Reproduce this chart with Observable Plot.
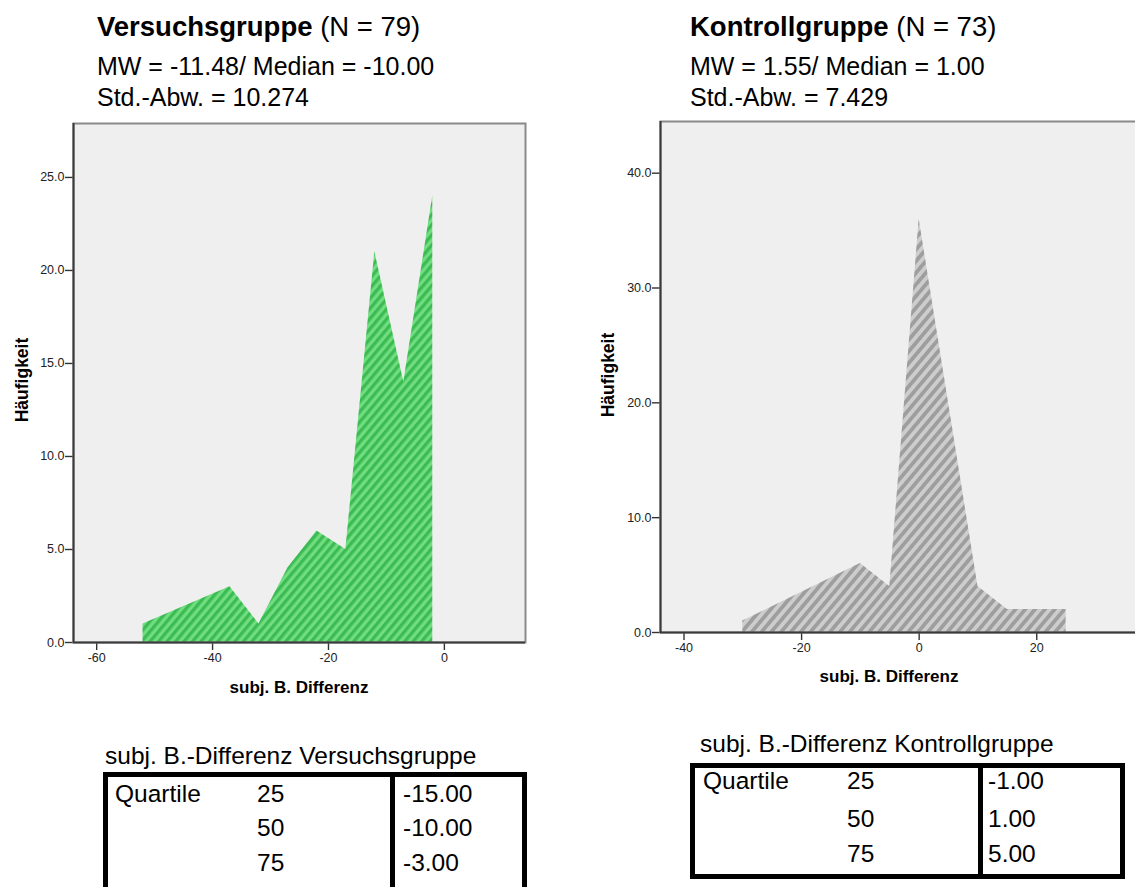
<!DOCTYPE html>
<html>
<head>
<meta charset="utf-8">
<script src="https://cdn.jsdelivr.net/npm/d3@7"></script>
<script src="https://cdn.jsdelivr.net/npm/@observablehq/plot@0.6"></script>
<style>
  html, body { margin: 0; padding: 0; background: #fff; }
  body { width: 1135px; height: 887px; overflow: hidden; position: relative;
         font-family: "Liberation Sans", Arial, sans-serif; color: #000; }
  .t { position: absolute; white-space: nowrap; line-height: 1; }
  .box { position: absolute; box-sizing: border-box; border: 5px solid #000; }
  .div { position: absolute; background: #000; width: 5px; }
  .chart { position: absolute; }
  .chart text { font-size: 12.5px !important; fill: #222; }
  .chart g[aria-label$="axis"] line, .chart g[aria-label$="tick"] path { stroke: #333; stroke-width: 1.4; }
</style>
</head>
<body>
<script>
// ---------- data ----------
const vgX = [-52, -37, -32, -27, -22, -17, -12, -7, -2];
const vgY = [1, 3, 1, 4, 6, 5, 21, 14, 24];
const kgX = [-30, -10, -5, 0, 10, 15, 25];
const kgY = [1, 6, 4, 36, 4, 2, 2];

const vgXTicks = [-60, -40, -20, 0];
const vgYTicks = [0, 5, 10, 15, 20, 25];
const kgXTicks = [-40, -20, 0, 20];
const kgYTicks = [0, 10, 20, 30, 40];

const quartLevels = ["25", "50", "75"];
const vgQuart = ["-15.00", "-10.00", "-3.00"];
const kgQuart = ["-1.00", "1.00", "5.00"];

const vgTitle = ["Versuchsgruppe", " (N = 79)"];
const vgStats = ["MW = -11.48/ Median = -10.00", "Std.-Abw. = 10.274"];
const kgTitle = ["Kontrollgruppe", " (N = 73)"];
const kgStats = ["MW = 1.55/ Median = 1.00", "Std.-Abw. = 7.429"];
const xLabel = "subj. B. Differenz";
const yLabel = "Häufigkeit";
const vgCaption = "subj. B.-Differenz Versuchsgruppe";
const kgCaption = "subj. B.-Differenz Kontrollgruppe";
const quartName = "Quartile";

// ---------- helpers ----------
const ASC = 0.8465; // baseline offset (em) for line-height 1 in Liberation Sans
function txt(html, x, baseline, size, opts = {}) {
  const d = document.createElement("div");
  d.className = "t";
  d.innerHTML = html;
  d.style.fontSize = size + "px";
  d.style.top = (baseline - ASC * size) + "px";
  if (opts.weight) d.style.fontWeight = opts.weight;
  d.style.left = x + "px";
  if (opts.center) d.style.transform = "translateX(-50%)";
  document.body.appendChild(d);
  return d;
}
function ytxt(text, cx, cy, size) {
  const d = document.createElement("div");
  d.className = "t";
  d.textContent = text;
  d.style.fontSize = size + "px";
  d.style.fontWeight = "bold";
  d.style.left = cx + "px";
  d.style.top = cy + "px";
  d.style.transform = "translate(-50%,-50%) rotate(-90deg)";
  document.body.appendChild(d);
}
function box(l, t, w, h) {
  const d = document.createElement("div");
  d.className = "box";
  Object.assign(d.style, {left: l + "px", top: t + "px", width: w + "px", height: h + "px"});
  document.body.appendChild(d);
}
function divider(l, t, h) {
  const d = document.createElement("div");
  d.className = "div";
  Object.assign(d.style, {left: l + "px", top: t + "px", height: h + "px"});
  document.body.appendChild(d);
}

function chart(cfg) {
  const data = cfg.xs.map((x, i) => ({x, y: cfg.ys[i]}));
  const svg = Plot.plot({
    width: cfg.width, height: cfg.height,
    marginLeft: cfg.ml, marginRight: cfg.mr, marginTop: cfg.mt, marginBottom: cfg.mb,
    style: {background: "transparent", fontFamily: "'Liberation Sans', Arial, sans-serif",
            fontSize: "12.5px", color: "#2a2a2a", overflow: "visible"},
    x: {domain: cfg.xDomain, ticks: cfg.xTicks, tickSize: 8, tickPadding: 3,
        tickFormat: d => String(d), label: null},
    y: {domain: cfg.yDomain, ticks: cfg.yTicks, tickSize: 8, tickPadding: 1,
        tickFormat: d3.format(".1f"), label: null},
    marks: [
      Plot.frame({fill: "#efefef", stroke: "none"}),
      Plot.areaY(data, {x: "x", y: "y", fill: `url(#${cfg.pid})`}),
      Plot.frame({stroke: "#8a8a8a", strokeWidth: 2}),
      Plot.ruleY([cfg.yDomain[0]], {stroke: "#3a3a3a", strokeWidth: 2}),
      Plot.ruleX([cfg.xDomain[0]], {stroke: "#3a3a3a", strokeWidth: 2})
    ]
  });
  const ns = "http://www.w3.org/2000/svg";
  const defs = document.createElementNS(ns, "defs");
  const p = cfg.period;
  defs.innerHTML = `<pattern id="${cfg.pid}" patternUnits="userSpaceOnUse" width="${p}" height="${p}" patternTransform="rotate(40)">` +
    `<rect width="${p}" height="${p}" fill="${cfg.base}"/>` +
    `<rect width="${p / 2}" height="${p}" fill="${cfg.stripe}"/></pattern>`;
  svg.prepend(defs);
  svg.classList.add("chart");
  svg.style.position = "absolute";
  svg.style.left = cfg.left + "px";
  svg.style.top = cfg.top + "px";
  document.body.appendChild(svg);
}

// ---------- left: Versuchsgruppe ----------
txt(`<b>${vgTitle[0]}</b>${vgTitle[1]}`, 97, 36, 27.5);
txt(vgStats[0], 97, 75, 25);
txt(vgStats[1], 97, 106, 25);
chart({xs: vgX, ys: vgY, left: 0, top: 110, width: 560, height: 610,
       ml: 73, mr: 35, mt: 13, mb: 78, xDomain: [-64, 14], yDomain: [0, 27.9],
       xTicks: vgXTicks, yTicks: vgYTicks, pid: "hatchG",
       base: "#6fdd80", stripe: "#3dbb53", period: 6.5});
ytxt(yLabel, 23, 380, 17.5);
txt(xLabel, 299, 693, 17, {weight: "bold", center: true});

// ---------- right: Kontrollgruppe ----------
txt(`<b>${kgTitle[0]}</b>${kgTitle[1]}`, 690, 36, 27.5);
txt(kgStats[0], 690, 75, 25);
txt(kgStats[1], 690, 106, 25);
chart({xs: kgX, ys: kgY, left: 590, top: 110, width: 560, height: 610,
       ml: 70, mr: 5, mt: 11, mb: 88, xDomain: [-44, 38.5], yDomain: [0, 44.5],
       xTicks: kgXTicks, yTicks: kgYTicks, pid: "hatchK",
       base: "#cdcdcd", stripe: "#9e9e9e", period: 7.5});
ytxt(yLabel, 609, 375, 17.5);
txt(xLabel, 889, 682, 17, {weight: "bold", center: true});

// ---------- tables ----------
txt(vgCaption, 105, 765, 24.5);
box(103, 772, 424, 130);
divider(390, 772, 130);
txt(quartName, 115, 803, 24.5);
const vgRows = [803, 837, 872];
quartLevels.forEach((q, i) => { txt(q, 257, vgRows[i], 24.5); txt(vgQuart[i], 403, vgRows[i], 24.5); });

txt(kgCaption, 700, 753, 24.5);
box(690, 763, 435, 116);
divider(978, 763, 116);
txt(quartName, 703, 790, 24.5);
const kgRows = [790, 828, 863];
quartLevels.forEach((q, i) => { txt(q, 847, kgRows[i], 24.5); txt(kgQuart[i], 988, kgRows[i], 24.5); });
</script>
</body>
</html>
